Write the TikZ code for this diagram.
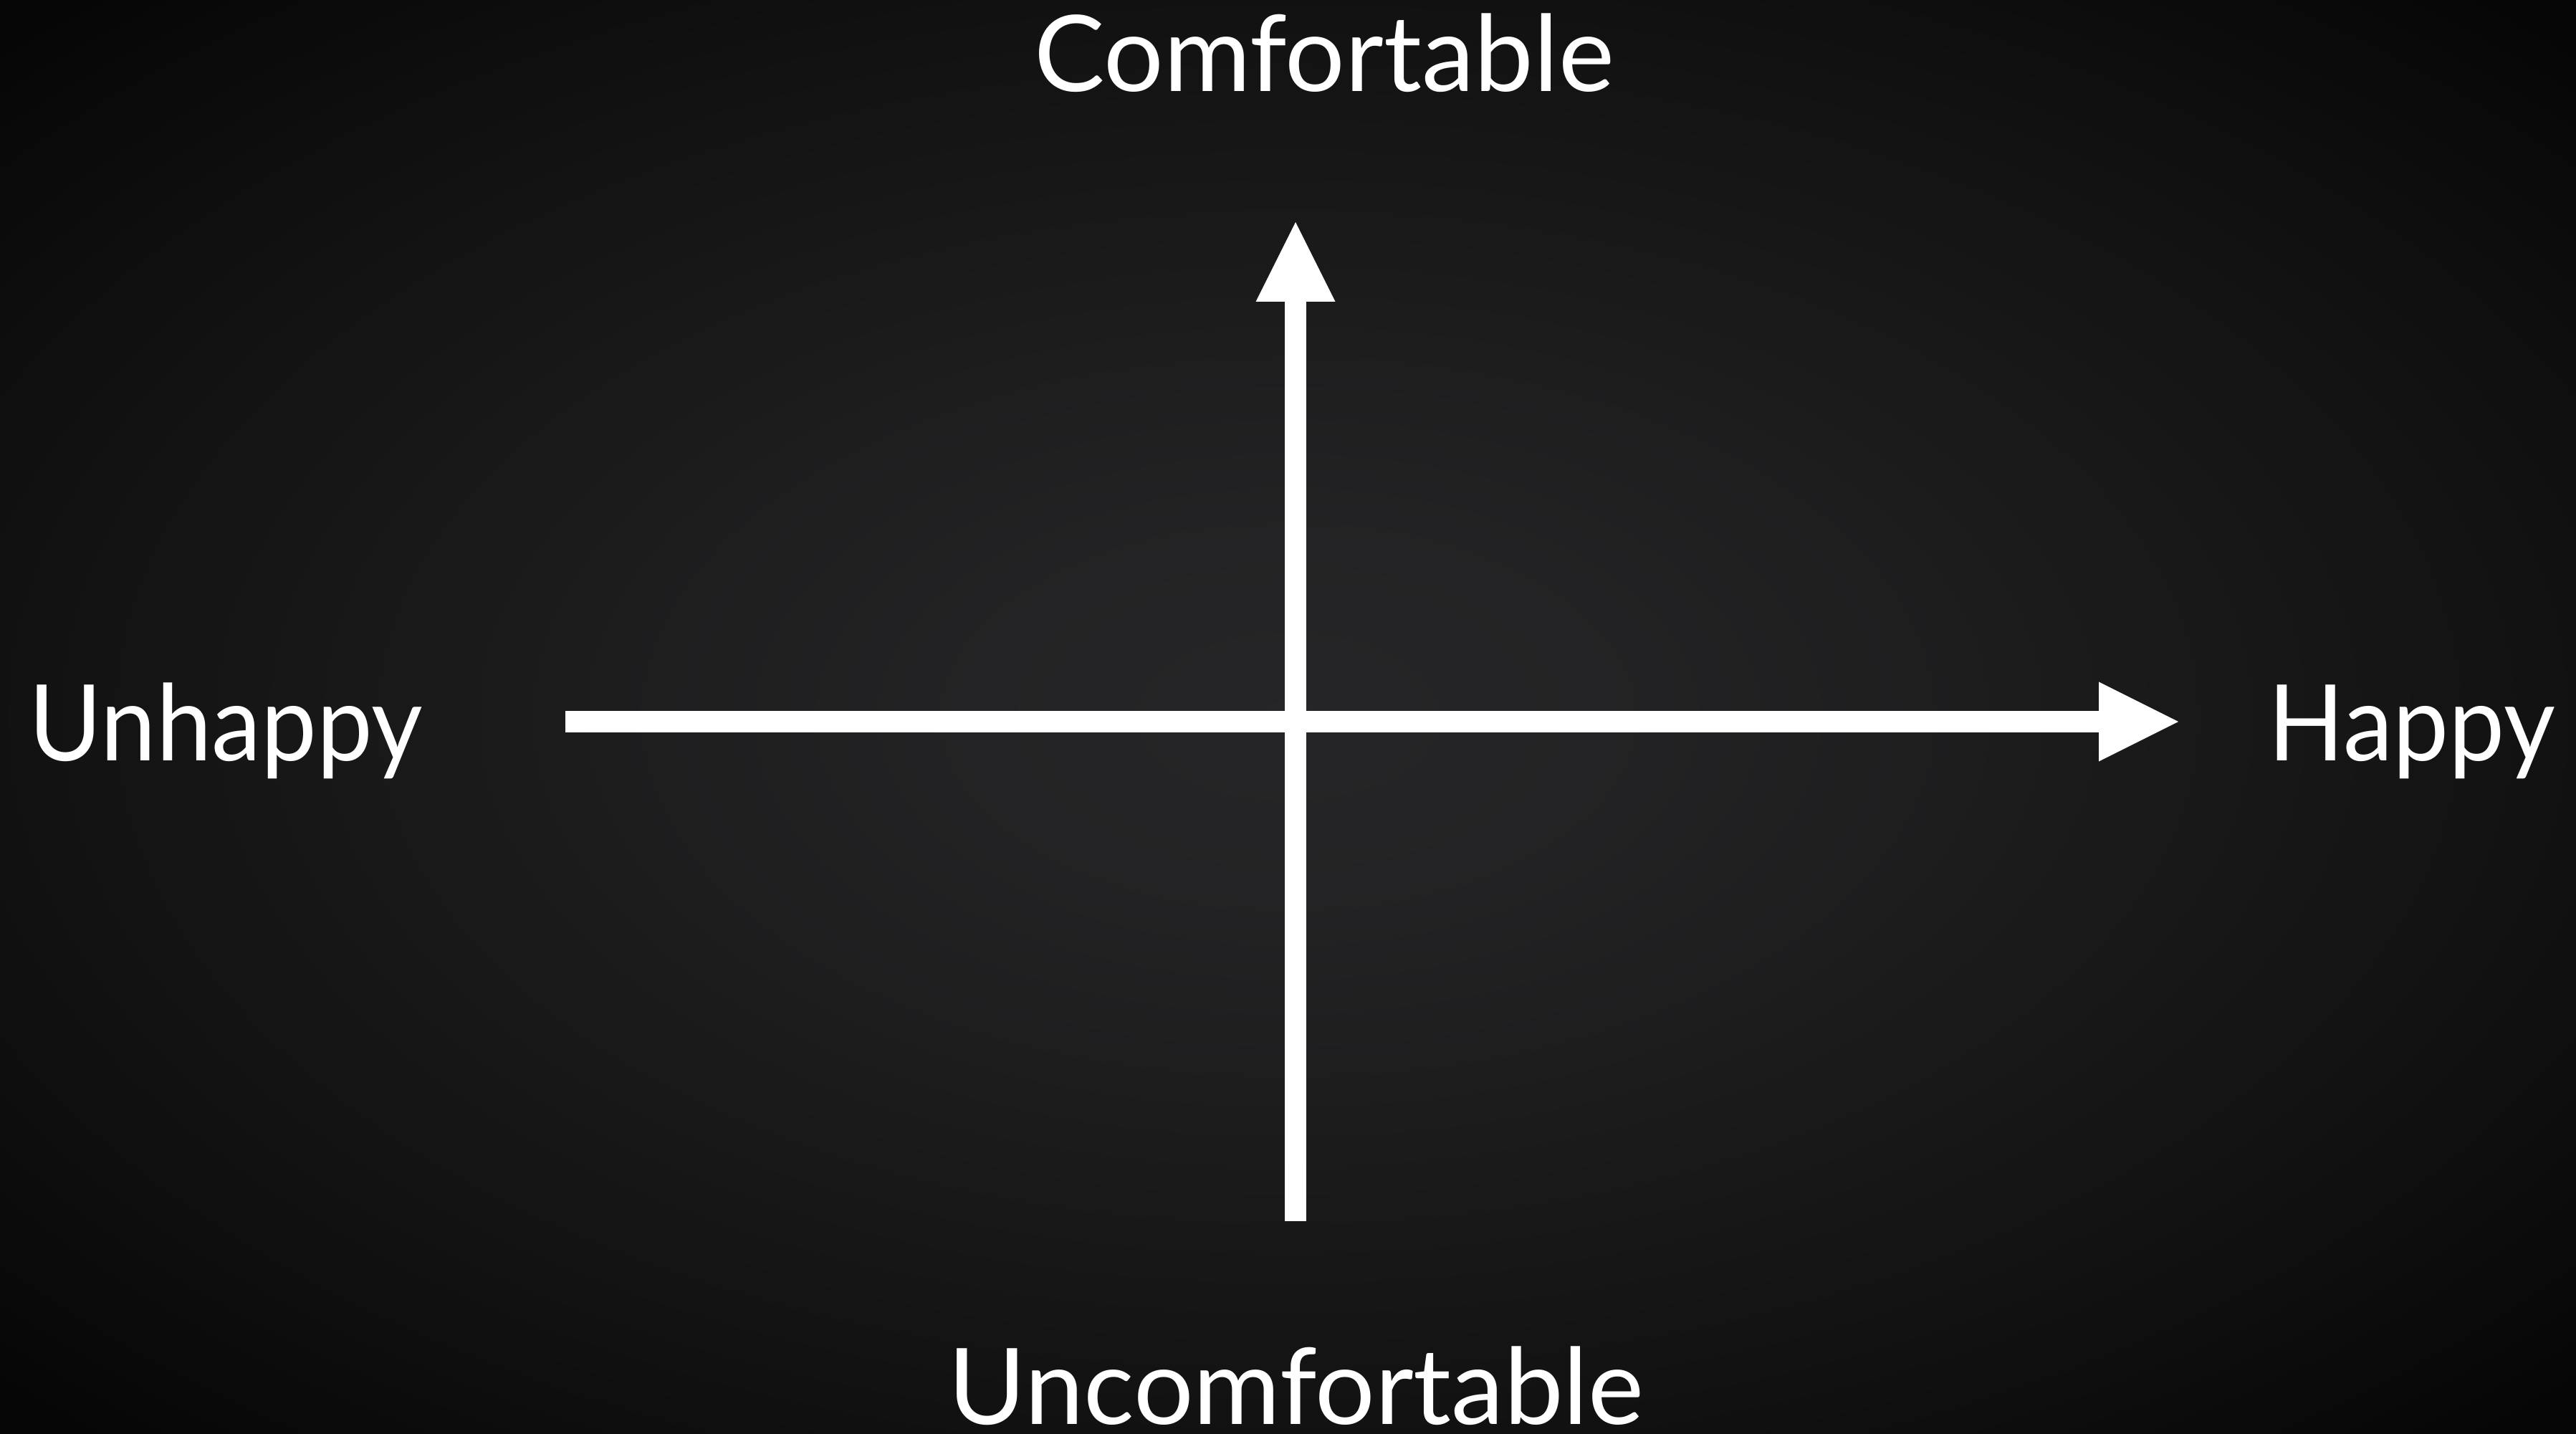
\documentclass[tikz,border=0pt]{standalone}
\usepackage{fontspec}
\setmainfont{Lato}
\usetikzlibrary{arrows.meta}
\pgfdeclareradialshading{bgshade}{\pgfpoint{0bp}{0bp}}{%
  rgb(0bp)=(0.148,0.148,0.156);
  rgb(6bp)=(0.138,0.138,0.145);
  rgb(12bp)=(0.118,0.118,0.123);
  rgb(18bp)=(0.095,0.095,0.098);
  rgb(25bp)=(0.068,0.068,0.069);
  rgb(30bp)=(0.045,0.045,0.045);
  rgb(35bp)=(0.020,0.020,0.020);
  rgb(50bp)=(0.020,0.020,0.020)}
\tikzset{
  lbl/.style={text=white, inner sep=0pt, font=\fontsize{42}{50}\selectfont},
  axis/.style={draw=white, line width=3mm, line cap=butt,
    -{Triangle[length=11.1mm, width=11.1mm, line width=0pt]}}
}
\begin{document}
\begin{tikzpicture}
\useasboundingbox (0,0) rectangle (35.95,20);
\shade[shading=bgshade] (0,0) rectangle (35.95,20);
\coordinate (hstart) at (7.89,9.93);
\coordinate (hend) at (30.40,9.93);
\coordinate (vstart) at (18.08,2.96);
\coordinate (vend) at (18.08,16.90);
\draw[axis] (hstart) -- (hend);
\draw[axis] (vstart) -- (vend);
\node[lbl, anchor=base] (comf) at (18.48,18.72) {Comfortable};
\node[lbl, anchor=base] (uncomf) at (18.09,0.13) {Uncomfortable};
\node[lbl, anchor=base west] (unhappy) at (0.40,9.38) {\scalebox{0.94}[1]{Unhappy}};
\node[lbl, anchor=base west] (happy) at (31.65,9.38) {\scalebox{0.945}[1]{Happy}};
\end{tikzpicture}
\end{document}
